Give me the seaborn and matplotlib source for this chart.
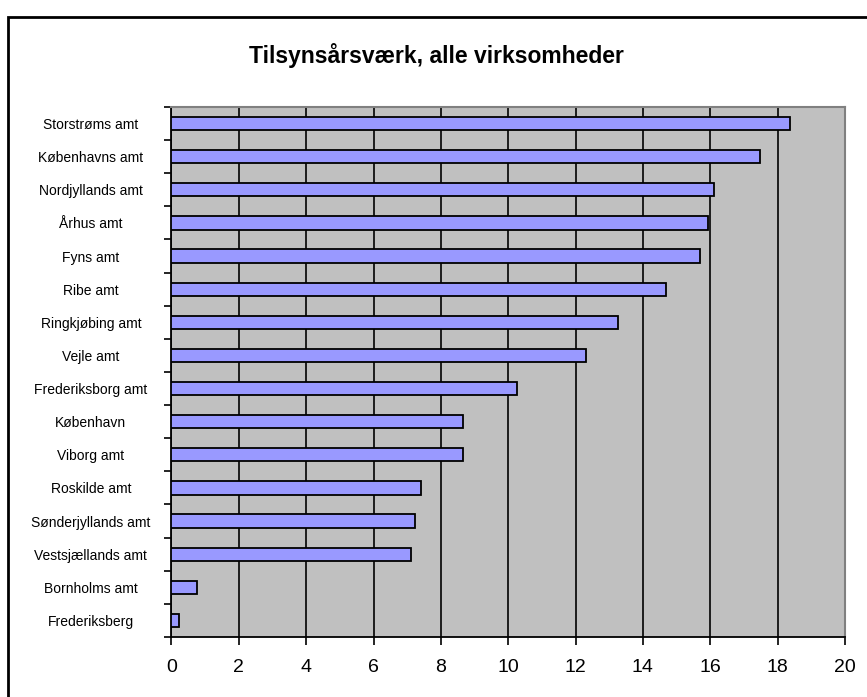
#!/usr/bin/env python3
import matplotlib
matplotlib.use("Agg")
import matplotlib.pyplot as plt
import matplotlib.patches as mpatches
import pandas as pd
import seaborn as sns

# Data
amter = [
    "Storstrøms amt", "Københavns amt", "Nordjyllands amt", "Århus amt",
    "Fyns amt", "Ribe amt", "Ringkjøbing amt", "Vejle amt",
    "Frederiksborg amt", "København", "Viborg amt", "Roskilde amt",
    "Sønderjyllands amt", "Vestsjællands amt", "Bornholms amt", "Frederiksberg",
]
aarsvaerk = [
    18.36, 17.48, 16.11, 15.93, 15.70, 14.69, 13.27, 12.32,
    10.25, 8.65, 8.65, 7.40, 7.22, 7.10, 0.76, 0.23,
]
x_ticks = [0, 2, 4, 6, 8, 10, 12, 14, 16, 18, 20]
title = "Tilsynsårsværk, alle virksomheder"

df = pd.DataFrame({"amt": amter, "vaerk": aarsvaerk})

sns.set_style("white")
plt.rcParams["font.family"] = ["Liberation Sans", "DejaVu Sans"]
plt.rcParams["text.color"] = "black"
plt.rcParams["xtick.color"] = "black"
plt.rcParams["ytick.color"] = "black"
plt.rcParams["xtick.labelcolor"] = "black"
plt.rcParams["ytick.labelcolor"] = "black"

fig = plt.figure(figsize=(8.67, 6.97), dpi=100)
ax = fig.add_axes([0.1978, 0.0861, 0.7768, 0.7604])
ax.set_facecolor("#C0C0C0")

sns.barplot(
    data=df, x="vaerk", y="amt", orient="h", ax=ax,
    color="#9999FF", edgecolor="black", linewidth=1.3,
    width=0.4, saturation=1, zorder=3,
)

# akser
ax.set_xlim(0, 20)
ax.set_ylim(len(amter) - 0.5, -0.5)
ax.set_xticks(x_ticks)
ax.set_xticklabels([str(t) for t in x_ticks], fontsize=14)
ax.tick_params(axis="x", direction="out", length=6, width=1.2, pad=10,
               color="black", labelcolor="black", bottom=True)
ax.xaxis.grid(True, color="black", linewidth=1.2, zorder=1)
ax.set_axisbelow(True)

ax.set_yticks(range(len(amter)))
ax.set_yticklabels(amter, fontsize=10, ha="center")
ax.tick_params(axis="y", which="major", length=0, pad=58, labelcolor="black")
ax.set_yticks([i - 0.5 for i in range(len(amter) + 1)], minor=True)
ax.tick_params(axis="y", which="minor", direction="out", length=5, width=1.2,
               color="black", left=True)

ax.set_xlabel("")
ax.set_ylabel("")

for side in ["left", "bottom"]:
    ax.spines[side].set_color("black")
    ax.spines[side].set_linewidth(1.3)
for side in ["top", "right"]:
    ax.spines[side].set_color("#808080")
    ax.spines[side].set_linewidth(1.5)

fig.text(0.503, 0.921, title, ha="center", va="center",
         fontsize=16.5, fontweight="bold", color="black")

# ramme om hele diagrammet
fig.patches.append(mpatches.Rectangle(
    (0.0098, -0.2), 1.2, 0.9756 + 0.2, transform=fig.transFigure,
    fill=False, edgecolor="black", linewidth=2))

fig.savefig("out.png", dpi=100)
